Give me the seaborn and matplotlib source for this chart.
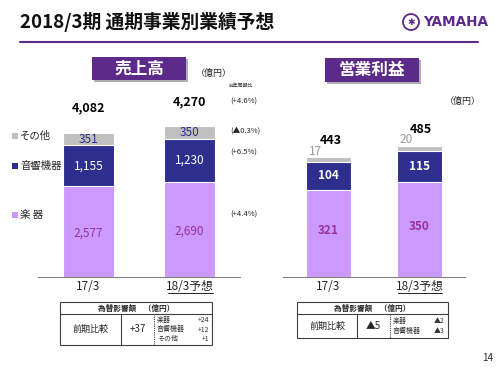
import numpy as np
import pandas as pd
import seaborn as sns
import matplotlib.pyplot as plt
from matplotlib.patches import Rectangle, Ellipse
from matplotlib.lines import Line2D

# data (億円)
periods = ['17/3', '18/3予想']
sales_instr = [2577, 2690]
sales_audio = [1155, 1230]
sales_other = [351, 350]
sales_total = [4082, 4270]
sales_growth = ['(+4.4%)', '(+6.5%)', '(▲0.3%)', '(+4.6%)']

op_instr = [321, 350]
op_audio = [104, 115]
op_other = [17, 20]
op_total = [443, 485]

GRAY = '#c0c0c0'
BLUE = '#2e2e8f'
LAV = '#cc99ff'
PURPLE = '#5c2a88'
VALPURPLE = '#993399'

sns.set_style('white')
plt.rcParams['font.family'] = ['Noto Sans CJK JP', 'DejaVu Sans']

fig = plt.figure(figsize=(5, 3.75), dpi=100)


def fx(x):
    return x / 500


def fy(y):
    return 1 - y / 375


def px_axes(x0, x1, ytop, ybot):
    return fig.add_axes([fx(x0), fy(ybot), (x1 - x0) / 500, (ybot - ytop) / 375])


# header
fig.text(fx(20), fy(22), '2018/3期 通期事業別業績予想', fontsize=13.5, fontweight='bold',
         va='center', ha='left', color='#111111')
fig.add_artist(Line2D([fx(20), fx(478)], [fy(42), fy(42)], color=PURPLE, lw=1.5))
fig.text(fx(488), fy(22), 'YAMAHA', fontsize=9.8, fontweight='bold', color=PURPLE,
         va='center', ha='right', family='DejaVu Sans')
fig.add_artist(Ellipse((fx(411), fy(22)), 16 / 500, 16 / 375, transform=fig.transFigure,
                       facecolor='white', edgecolor=PURPLE, lw=1.3))
fig.text(fx(411), fy(22.5), '✱', fontsize=6.5, color=PURPLE, ha='center', va='center',
         family='DejaVu Sans')


def title_box(x0, x1, y0, y1, label):
    fig.add_artist(Rectangle((fx(x0 + 2), fy(y1 + 2)), (x1 - x0) / 500, (y1 - y0) / 375,
                             transform=fig.transFigure, facecolor='#b0b0b0', edgecolor='none'))
    fig.add_artist(Rectangle((fx(x0), fy(y1)), (x1 - x0) / 500, (y1 - y0) / 375,
                             transform=fig.transFigure, facecolor=PURPLE, edgecolor='none'))
    fig.text(fx((x0 + x1) / 2), fy((y0 + y1) / 2), label, color='white', fontsize=12,
             fontweight='bold', ha='center', va='center')


title_box(92, 186, 57, 80, '売上高')
title_box(325, 419, 58, 82, '営業利益')


def stacked(ax, instr, audio, other, ymax):
    df = pd.DataFrame({'period': periods,
                       'instr': instr,
                       'audio': np.add(instr, audio),
                       'other': np.add(np.add(instr, audio), other)})
    for col, c in [('other', GRAY), ('audio', BLUE), ('instr', LAV)]:
        sns.barplot(data=df, x='period', y=col, color=c, width=0.5, saturation=1,
                    errorbar=None, edgecolor='white', linewidth=0.8, ax=ax)
    ax.set_xlim(-0.5, 1.5)
    ax.set_ylim(0, ymax)
    ax.set_xlabel('')
    ax.set_ylabel('')
    ax.set_yticks([])
    for s in ['top', 'left', 'right']:
        ax.spines[s].set_visible(False)
    ax.spines['bottom'].set_color('#808080')
    ax.spines['bottom'].set_linewidth(0.8)
    ax.set_xticks([-0.5, 0.5, 1.5], minor=True)
    ax.tick_params(axis='x', which='minor', direction='in', length=3, color='#808080', width=0.8)
    ax.tick_params(axis='x', which='major', length=0, labelsize=8.5, pad=2)
    ax.set_xticks([0, 1])
    ax.set_xticklabels(periods)
    ax.patch.set_alpha(0)
    return df


# sales chart
ax1 = px_axes(38, 240, 107, 277)
df1 = stacked(ax1, sales_instr, sales_audio, sales_other, 4820)
for i in range(2):
    ax1.text(i, sales_instr[i] / 2 - 40, f'{sales_instr[i]:,}', color=VALPURPLE,
             fontsize=8.5, ha='center', va='center')
    ax1.text(i, sales_instr[i] + sales_audio[i] / 2, f'{sales_audio[i]:,}', color='white',
             fontsize=8.5, ha='center', va='center')
    ax1.text(i, df1['other'][i] - sales_other[i] / 2, f'{sales_other[i]:,}', color=BLUE,
             fontsize=8.5, ha='center', va='center')
    ax1.text(i, sales_total[i] + 700, f'{sales_total[i]:,}', color='black',
             fontsize=9, fontweight='bold', ha='center', va='center')

# sales legend
for y, c, lab in [(136, GRAY, 'その他'), (166, BLUE, '音響機器'), (215, LAV, '楽 器')]:
    fig.add_artist(Rectangle((fx(12), fy(y + 3)), 6 / 500, 6 / 375, transform=fig.transFigure,
                             facecolor=c, edgecolor='none'))
    fig.text(fx(20), fy(y), lab, fontsize=7.5, ha='left', va='center')

fig.text(fx(196), fy(73), '（億円）', fontsize=6.5, ha='left', va='center')
fig.text(fx(229), fy(85), '前年同期比', fontsize=3.5, ha='left', va='center')
for y, g in zip([215, 153, 131, 102], sales_growth):
    fig.text(fx(230), fy(y), g, fontsize=5.5, ha='left', va='center')

# operating income chart
ax2 = px_axes(283, 465, 124, 277)
df2 = stacked(ax2, op_instr, op_audio, op_other, 565)
for i in range(2):
    ax2.text(i, op_instr[i] / 2 + 10, f'{op_instr[i]:,}', color=VALPURPLE,
             fontsize=8.5, fontweight='bold', ha='center', va='center')
    ax2.text(i, op_instr[i] + op_audio[i] / 2, f'{op_audio[i]:,}', color='white',
             fontsize=8.5, fontweight='bold', ha='center', va='center')
    ax2.text(i - 0.22, df2['other'][i] + 22, f'{op_other[i]}', color='#999999',
             fontsize=8.5, ha='left', va='center')
    ax2.text(i + 0.02, op_total[i] + 61, f'{op_total[i]}', color='black',
             fontsize=9, fontweight='bold', ha='center', va='center')
fig.text(fx(445), fy(101), '（億円）', fontsize=6.5, ha='left', va='center')

# underline under forecast tick labels
for x0, x1 in [(168, 213), (398, 442)]:
    fig.add_artist(Line2D([fx(x0), fx(x1)], [fy(293), fy(293)], color='black', lw=0.6))


# FX tables
def fx_table(x0, x1, y0, y1, c1, c2, amount, items):
    hdr = 314
    tr = fig.transFigure
    fig.add_artist(Rectangle((fx(x0), fy(y1)), (x1 - x0) / 500, (y1 - y0) / 375, transform=tr,
                             facecolor='white', edgecolor='#404040', lw=0.8))
    fig.add_artist(Line2D([fx(x0), fx(x1)], [fy(hdr), fy(hdr)], color='#404040', lw=0.8))
    fig.add_artist(Line2D([fx(c1), fx(c1)], [fy(hdr), fy(y1)], color='#404040', lw=0.8))
    fig.add_artist(Line2D([fx(c2), fx(c2)], [fy(hdr), fy(y1)], color='#404040', lw=0.8, ls=(0, (1, 1))))
    fig.text(fx((x0 + x1) / 2), fy(308), '為替影響額　（億円）', fontsize=5.5, fontweight='bold',
             ha='center', va='center')
    fig.text(fx((x0 + c1) / 2), fy((hdr + y1) / 2), '前期比較', fontsize=6.5, ha='center', va='center')
    fig.text(fx((c1 + c2) / 2), fy((hdr + y1) / 2), amount, fontsize=7, ha='center', va='center')
    n = len(items)
    step = (y1 - hdr) / (n + 0.4)
    for k, (name, v) in enumerate(items):
        yy = hdr + step * (k + 0.7)
        fig.text(fx(c2 + 3), fy(yy), name, fontsize=5, ha='left', va='center', color='#333333')
        fig.text(fx(x1 - 3), fy(yy), v, fontsize=5, ha='right', va='center', color='#333333')


fx_table(60, 212, 302, 345, 121, 154, '+37',
         [('楽器', '+24'), ('音響機器', '+12'), ('その他', '+1')])
fx_table(297, 448, 302, 338, 357, 390, '▲5',
         [('楽器', '▲2'), ('音響機器', '▲3')])

fig.text(fx(493), fy(358), '14', fontsize=7, ha='right', va='center')

fig.savefig('out.png', dpi=100)
